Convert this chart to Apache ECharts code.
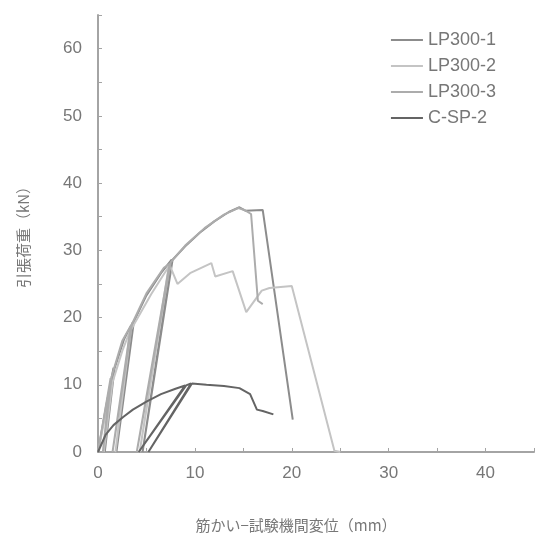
<!DOCTYPE html>
<html>
<head>
<meta charset="utf-8">
<script src="https://cdn.jsdelivr.net/npm/echarts@6/dist/echarts.min.js"></script>
<style>
  html, body { margin: 0; padding: 0; background: #fff; }
  #chart { width: 535px; height: 538px; }
</style>
</head>
<body>
<div id="chart"></div>
<script>
// 変位 (mm), 荷重 (kN)
var lp300_1 = [[0,0],[0.8,6.5],[1.6,12.5],[0.7,0],[1.7,12.4],[2.7,16.8],[3.6,19.3],[1.9,0],[3.7,19.4],[5,23.3],[6.5,26.6],[7.6,28.6],[4.6,0],[7.7,28.6],[9,30.6],[10.5,32.6],[12,34.3],[13.5,35.7],[14.6,36.4],[15.2,35.9],[17,36],[20.1,4.8]];
var lp300_2 = [[0,0],[1.4,10],[0.6,0],[1.5,10.4],[2.5,15],[3.3,18],[1.8,0],[3.4,18.2],[5.5,23.5],[7.3,27.6],[4.3,0],[7.4,27.8],[8.2,25],[9.5,26.6],[11.7,28.1],[12.1,26.1],[13.9,26.9],[15.3,20.8],[16.9,24],[17.7,24.4],[20,24.7],[24.4,0.2],[25,0]];
var lp300_3 = [[0,0],[1.3,11],[0.5,0],[1.4,11.2],[2.5,16.5],[3.4,18.8],[1.5,0],[3.5,19],[5,23.6],[6.8,27.4],[7.4,28],[4,0],[7.5,28.2],[9,30.7],[11,33.3],[13,35.3],[14.5,36.3],[15.1,36],[15.8,35.4],[16.5,22.5],[17,22]];
var csp_2 = [[0,0],[0.8,2.6],[1.6,4],[2.6,5.2],[3.6,6.3],[5,7.5],[6.5,8.6],[8,9.4],[9,9.9],[4.2,0],[9.1,9.9],[9.6,10.2],[5.2,0],[9.7,10.2],[11.2,10],[13,9.8],[14.6,9.5],[15.7,8.6],[16.4,6.3],[17,6.1],[18.1,5.6]];

var seriesNames = ['LP300-1', 'LP300-2', 'LP300-3', 'C-SP-2'];
var seriesData = [lp300_1, lp300_2, lp300_3, csp_2];
var seriesColors = ['#8c8c8c', '#c4c4c4', '#acacac', '#646464'];

var myChart = echarts.init(document.getElementById('chart'));

var option = {
    backgroundColor: '#fff',
    animation: false,
    textStyle: { fontFamily: 'Noto Sans CJK JP, sans-serif' },
    legend: {
        orient: 'vertical',
        right: 34,
        top: 26,
        icon: 'rect',
        itemWidth: 32,
        itemHeight: 2,
        itemGap: 8,
        textStyle: { color: '#777', fontSize: 18, fontFamily: 'Liberation Sans, sans-serif' },
        data: seriesNames
    },
    grid: { left: 98, right: 1, top: 15, bottom: 77 },
    xAxis: {
        type: 'value',
        min: 0, max: 45, interval: 10,
        name: '筋かい−試験機間変位（mm）',
        nameLocation: 'middle',
        nameGap: 66,
        nameTextStyle: { color: '#777', fontSize: 15, padding: [0, 40, 0, 0] },
        axisLine: { show: true, lineStyle: { color: '#a4a4a4', width: 2 } },
        axisTick: { show: true, inside: true, length: 4, lineStyle: { color: '#a4a4a4' } },
        minorTick: { show: true, splitNumber: 2, length: 4, lineStyle: { color: '#a4a4a4' } },
        splitLine: { show: false },
        axisLabel: { color: '#777', fontSize: 17, margin: 13, fontFamily: 'Liberation Sans, sans-serif', showMaxLabel: false }
    },
    yAxis: {
        type: 'value',
        min: 0, max: 65, interval: 10,
        name: '引張荷重（kN）',
        nameLocation: 'middle',
        nameGap: 67,
        nameTextStyle: { color: '#777', fontSize: 15 },
        axisLine: { show: true, lineStyle: { color: '#a4a4a4', width: 2 } },
        axisTick: { show: true, inside: true, length: 4, lineStyle: { color: '#a4a4a4' } },
        minorTick: { show: true, splitNumber: 2, length: 4, lineStyle: { color: '#a4a4a4' } },
        splitLine: { show: false },
        axisLabel: { color: '#777', fontSize: 17, margin: 16, fontFamily: 'Liberation Sans, sans-serif', showMaxLabel: false }
    },
    series: seriesNames.map(function (name, i) {
        return {
            name: name,
            type: 'line',
            symbol: 'none',
            data: seriesData[i],
            color: seriesColors[i],
            lineStyle: { color: seriesColors[i], width: 2 }
        };
    })
};
myChart.setOption(option);
</script>
</body>
</html>
